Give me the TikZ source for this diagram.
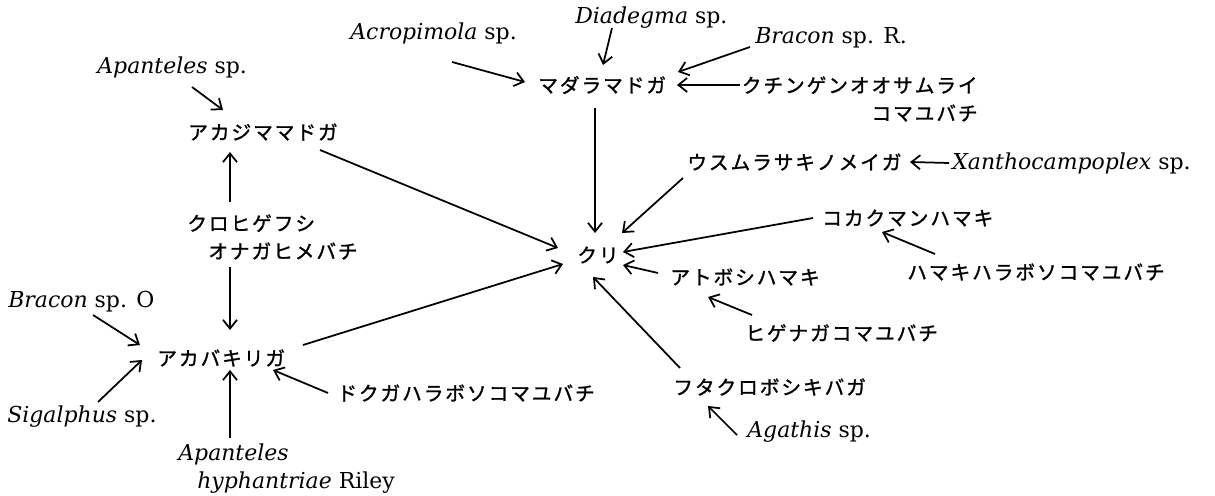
\documentclass[tikz,border=0pt]{standalone}
\usepackage{fontspec}
\setmainfont{DejaVu Serif}
\newfontfamily\jpfont[FakeBold=1.3]{Noto Sans CJK JP}
\usetikzlibrary{arrows.meta,calc}
\newlength\jgap
\setlength\jgap{1.1pt}
\makeatletter
\newcommand\js[1]{{\jpfont\@tfor\jchar:=#1\do{\jchar\hspace{\jgap}}\unskip}}
\makeatother
\tikzset{
  jp/.style={inner sep=0pt, anchor=west, font={\fontsize{11.2}{15.9}\selectfont}},
  lat/.style={inner sep=0pt, anchor=west, font={\fontsize{12.5}{15.9}\selectfont}},
  arr/.style={-{Straight Barb[length=5pt,width=8pt]}, line width=1pt}
}
\begin{document}
\begin{tikzpicture}[x=0.02cm,y=-0.02cm]
\useasboundingbox (0,0) rectangle (1215,496);
% nodes
\node[lat] (diad) at (575,18) {\textit{Diadegma} sp.};
\node[lat] (acro) at (350,33) {\textit{Acropimola} sp.};
\node[lat] (bracR) at (755,38) {\textit{Bracon} sp. R.};
\node[jp] (madara) at (538,85) {\js{マダラマドガ}};
\node[jp, anchor=east, align=right] (kuchin) at (978,99) {\js{クチンゲンオオサムライ}\\\js{コマユバチ}};
\node[lat] (apanA) at (97,67) {\textit{Apanteles} sp.};
\node[jp] (akajima) at (188,132) {\js{アカジママドガ}};
\node[jp, align=left] (kurohige) at (187,237) {\js{クロヒゲフシ}\\\hspace*{0.42cm}\js{オナガヒメバチ}};
\node[jp] (akaba) at (157,358) {\js{アカバキリガ}};
\node[lat] (bracO) at (8,302) {\textit{Bracon} sp. O};
\node[lat] (sigal) at (7,417) {\textit{Sigalphus} sp.};
\node[lat, align=left] (apanH) at (178,469) {\textit{Apanteles}\\\hspace*{0.38cm}\textit{hyphantriae} Riley};
\node[jp] (dokuga) at (337,393) {\js{ドクガハラボソコマユバチ}};
\node[jp] (kuri) at (577,255) {\js{クリ}};
\node[jp] (usumura) at (687,162) {\js{ウスムラサキノメイガ}};
\node[lat] (xantho) at (952,163) {\textit{Xanthocampoplex} sp.};
\node[jp] (kokaku) at (822,218) {\js{コカクマンハマキ}};
\node[jp] (hamaki) at (907,272) {\js{ハマキハラボソコマユバチ}};
\node[jp] (atobo) at (670,277) {\js{アトボシハマキ}};
\node[jp] (higena) at (745,333) {\js{ヒゲナガコマユバチ}};
\node[jp] (futa) at (673,387) {\js{フタクロボシキバガ}};
\node[lat] (agathis) at (747,432) {\textit{Agathis} sp.};
% connectors
\draw[arr] ($(acro.west)+(102,29)$) -- ($(madara.west)+(-13,-3)$);
\draw[arr] ($(diad.west)+(37,10)$) -- ($(madara.west)+(65,-20)$);
\draw[arr] ($(bracR.west)+(-5,9)$) -- ($(madara.west)+(140,-13)$);
\draw[arr] ($(kuchin.east)+(-238,-14)$) -- ($(madara.west)+(139,0)$);
\draw[arr] ($(madara.west)+(57,23)$) -- ($(kuri.west)+(18,-22)$);
\draw[arr] ($(akajima.west)+(132,18)$) -- ($(kuri.west)+(-19,-7)$);
\draw[arr] ($(akaba.west)+(146,-13)$) -- ($(kuri.west)+(-14,9)$);
\draw[arr] ($(usumura.west)+(-4,16)$) -- ($(kuri.west)+(45,-22)$);
\draw[arr] ($(xantho.west)+(-3,0)$) -- ($(usumura.west)+(223,0)$);
\draw[arr] ($(kokaku.west)+(-9,0)$) -- ($(kuri.west)+(46,-3)$);
\draw[arr] ($(hamaki.west)+(28,-18)$) -- ($(kokaku.west)+(60,14)$);
\draw[arr] ($(atobo.west)+(-12,-4)$) -- ($(kuri.west)+(46,10)$);
\draw[arr] ($(higena.west)+(7,-18)$) -- ($(atobo.west)+(38,20)$);
\draw[arr] ($(futa.west)+(7,-19)$) -- ($(kuri.west)+(16,22)$);
\draw[arr] ($(agathis.west)+(-10,3)$) -- ($(futa.west)+(35,19)$);
\draw[arr] ($(apanA.west)+(95,20)$) -- ($(akajima.west)+(35,-22)$);
\draw[arr] ($(kurohige.west)+(43,-35)$) -- ($(akajima.west)+(42,20)$);
\draw[arr] ($(kurohige.west)+(43,30)$) -- ($(akaba.west)+(73,-28)$);
\draw[arr] ($(bracO.west)+(85,13)$) -- ($(akaba.west)+(-17,-13)$);
\draw[arr] ($(sigal.west)+(91,-15)$) -- ($(akaba.west)+(-15,2)$);
\draw[arr] ($(apanH.west)+(52,-31)$) -- ($(akaba.west)+(73,12)$);
\draw[arr] ($(dokuga.west)+(-9,0)$) -- ($(akaba.west)+(116,12)$);
\end{tikzpicture}
\end{document}
